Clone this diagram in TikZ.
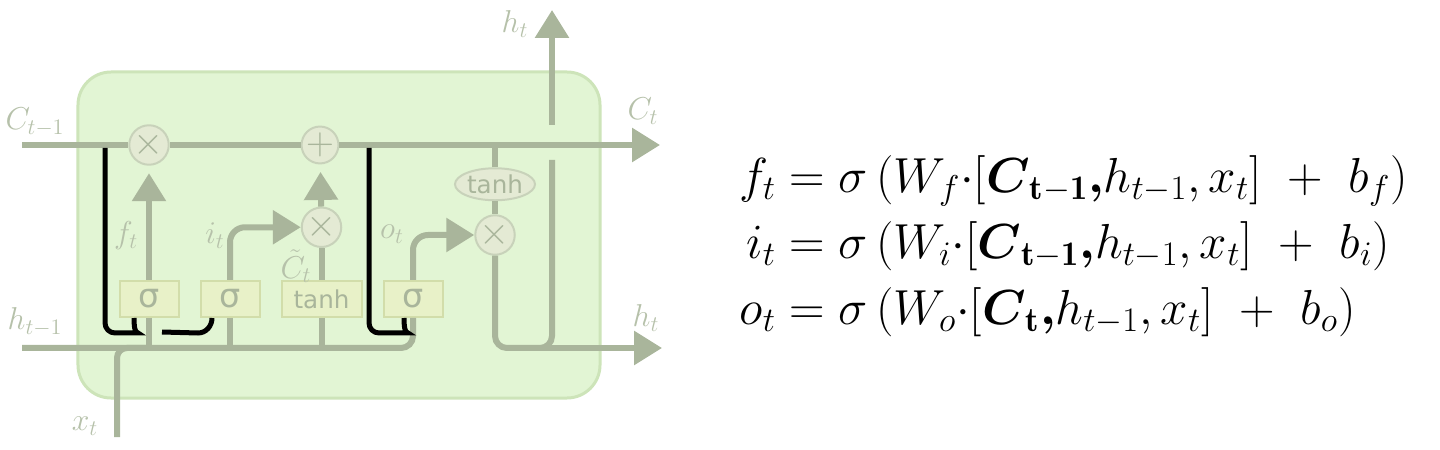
\RequirePackage{fix-cm}
\documentclass[tikz,border=0pt]{standalone}
\usepackage{amsmath}
\usepackage{fontspec}
\newfontfamily\gatefont{DejaVu Sans}
\usetikzlibrary{shapes.geometric, arrows.meta, positioning, calc}

\definecolor{cellfill}{RGB}{226,245,212}
\definecolor{celledge}{RGB}{205,228,185}
\definecolor{wirecol}{RGB}{169,181,155}
\definecolor{opfill}{RGB}{228,234,212}
\definecolor{opedge}{RGB}{200,210,186}
\definecolor{gatefill}{RGB}{232,241,200}
\definecolor{gateedge}{RGB}{210,221,170}
\definecolor{lblcol}{RGB}{182,193,170}

\tikzstyle{cell} = [rectangle, rounded corners=6.6mm, minimum width=104.4mm, minimum height=65.2mm, draw=celledge, fill=cellfill, line width=0.6mm]
\tikzstyle{gate} = [rectangle, minimum width=11.8mm, minimum height=7.2mm, inner sep=0pt, draw=gateedge, fill=gatefill, line width=0.4mm, text=wirecol, font=\gatefont\fontsize{19}{19}\selectfont]
\tikzstyle{op} = [circle, minimum size=6.8mm, inner sep=0pt, draw=opedge, fill=opfill, line width=0.4mm, text=wirecol, font=\fontsize{22}{22}\selectfont]
\tikzstyle{wire} = [draw=wirecol, line width=1.2mm]
\tikzstyle{arrow} = [wire, -{Triangle[length=5.6mm,width=6.6mm]}]
\tikzstyle{peep} = [draw=black, line width=1mm]
\tikzstyle{lbl} = [text=lblcol, inner sep=1pt, font=\fontsize{18}{18}\selectfont]

\begin{document}
\begin{tikzpicture}[x=0.2mm, y=-0.2mm]
	\useasboundingbox (0,0) rectangle (1440,450);
	\node (cell) [cell] at (339,235) {};
	% gates
	\node (sf) [gate] at (149,299) {σ};
	\node (si) [gate, right=4mm of sf] {σ};
	\node (sc) [gate, right=4mm of si, minimum width=16mm, font=\gatefont\fontsize{14}{14}\selectfont] {tanh};
	\node (so) [gate, right=4mm of sc] {σ};
	% pointwise ops
	\node (mf) [op] at (149,145) {$\times$};
	\node (ma) [op] at (320,145) {$+$};
	\node (mi) [op, above=6.4mm of sc] {$\times$};
	\node (mo) [op] at (495,235) {$\times$};
	\node (th) [ellipse, above=2.6mm of mo, minimum width=16mm, minimum height=6.4mm, inner sep=0pt, draw=opedge, fill=opfill, line width=0.4mm, text=wirecol, font=\gatefont\fontsize{14}{14}\selectfont] {tanh};
	% ends
	\coordinate (cin) at (22,145);
	\coordinate (cout) at (660,145);
	\coordinate (hin) at (22,348);
	\coordinate (xin) at (117,437);
	\coordinate (hj) at (552,348);
	\coordinate (hk) at (530,348);
	\coordinate (hout) at (662,348);
	\coordinate (hlo) at (552,160);
	\coordinate (hhi) at (552,125);
	\coordinate (hup) at (552,10);
	\coordinate (pf) at (105,148);
	\coordinate (pi) at (162,332);
	\coordinate (po) at (369,148);

	\draw [wire] (cin) -- (mf);
	\draw [wire] (mf) -- (ma);
	\draw [arrow] (ma) -- (cout);
	\draw [wire, rounded corners=2.4mm] (hin) -| (so);
	\draw [wire, rounded corners=2mm] (xin) |- (sf |- hin);
	\draw [wire] (sf) -- (sf |- hin);
	\draw [wire] (si) -- (si |- hin);
	\draw [wire] (sc) -- (sc |- hin);
	\draw [arrow, shorten >=1.5mm] (sf) -- (mf);
	\draw [arrow, rounded corners=3mm] (si) |- (mi);
	\draw [wire] (sc) -- (mi);
	\draw [arrow, shorten >=1.5mm] (mi) -- (ma);
	\draw [arrow, rounded corners=3mm] (so) |- (mo);
	\draw [wire] (th) -- (th |- cin);
	\draw [wire] (th) -- (mo);
	\draw [wire, rounded corners=2.4mm] (mo) |- (hj) -- (hlo);
	\draw [arrow] (hk) -- (hout);
	\draw [arrow] (hhi) -- (hup);
	% peepholes
	\draw [peep, rounded corners=2mm] (pf) |- ($(sf.south)+(-21,15)$) to[out=0,in=-90] ($(sf.south)+(-15,0)$);
	\draw [peep] (pi) -- ($(si.south)+(-32,15)$) to[out=0,in=-90] ($(si.south)+(-18,0)$);
	\draw [peep, rounded corners=2mm] (po) |- ($(so.south)+(-15,15)$) to[out=0,in=-90] ($(so.south)+(-9,0)$);

	% labels
	\node (lc0) [lbl] at (35,122) {$C_{t-1}$};
	\node (lc1) [lbl] at (643,111) {$C_t$};
	\node (lhu) [lbl] at (515,24) {$h_t$};
	\node (lh0) [lbl] at (35,322) {$h_{t-1}$};
	\node (lh1) [lbl] at (646,318) {$h_t$};
	\node (lx) [lbl] at (85,426) {$x_t$};
	\node (lf) [lbl] at (126,236) {$f_t$};
	\node (li) [lbl] at (215,236) {$i_t$};
	\node (lct) [lbl] at (296,266) {$\tilde{C}_t$};
	\node (lo) [lbl] at (392,234) {$o_t$};

	% equations
	\node (eqs) [anchor=west, font=\fontsize{28}{31.6}\selectfont] at (733,247) {\setlength{\jot}{6pt}$\begin{aligned}
		f_t &= \sigma\,(W_f{\cdot}[\boldsymbol{C}_{\mathbf{t-1}}\boldsymbol{,} h_{t-1}, x_t]\ +\ b_f)\\
		i_t &= \sigma\,(W_i{\cdot}[\boldsymbol{C}_{\mathbf{t-1}}\boldsymbol{,} h_{t-1}, x_t]\ +\ b_i)\\
		o_t &= \sigma\,(W_o{\cdot}[\boldsymbol{C}_{\mathbf{t}}\boldsymbol{,} h_{t-1}, x_t]\ +\ b_o)
	\end{aligned}$};
\end{tikzpicture}
\end{document}
